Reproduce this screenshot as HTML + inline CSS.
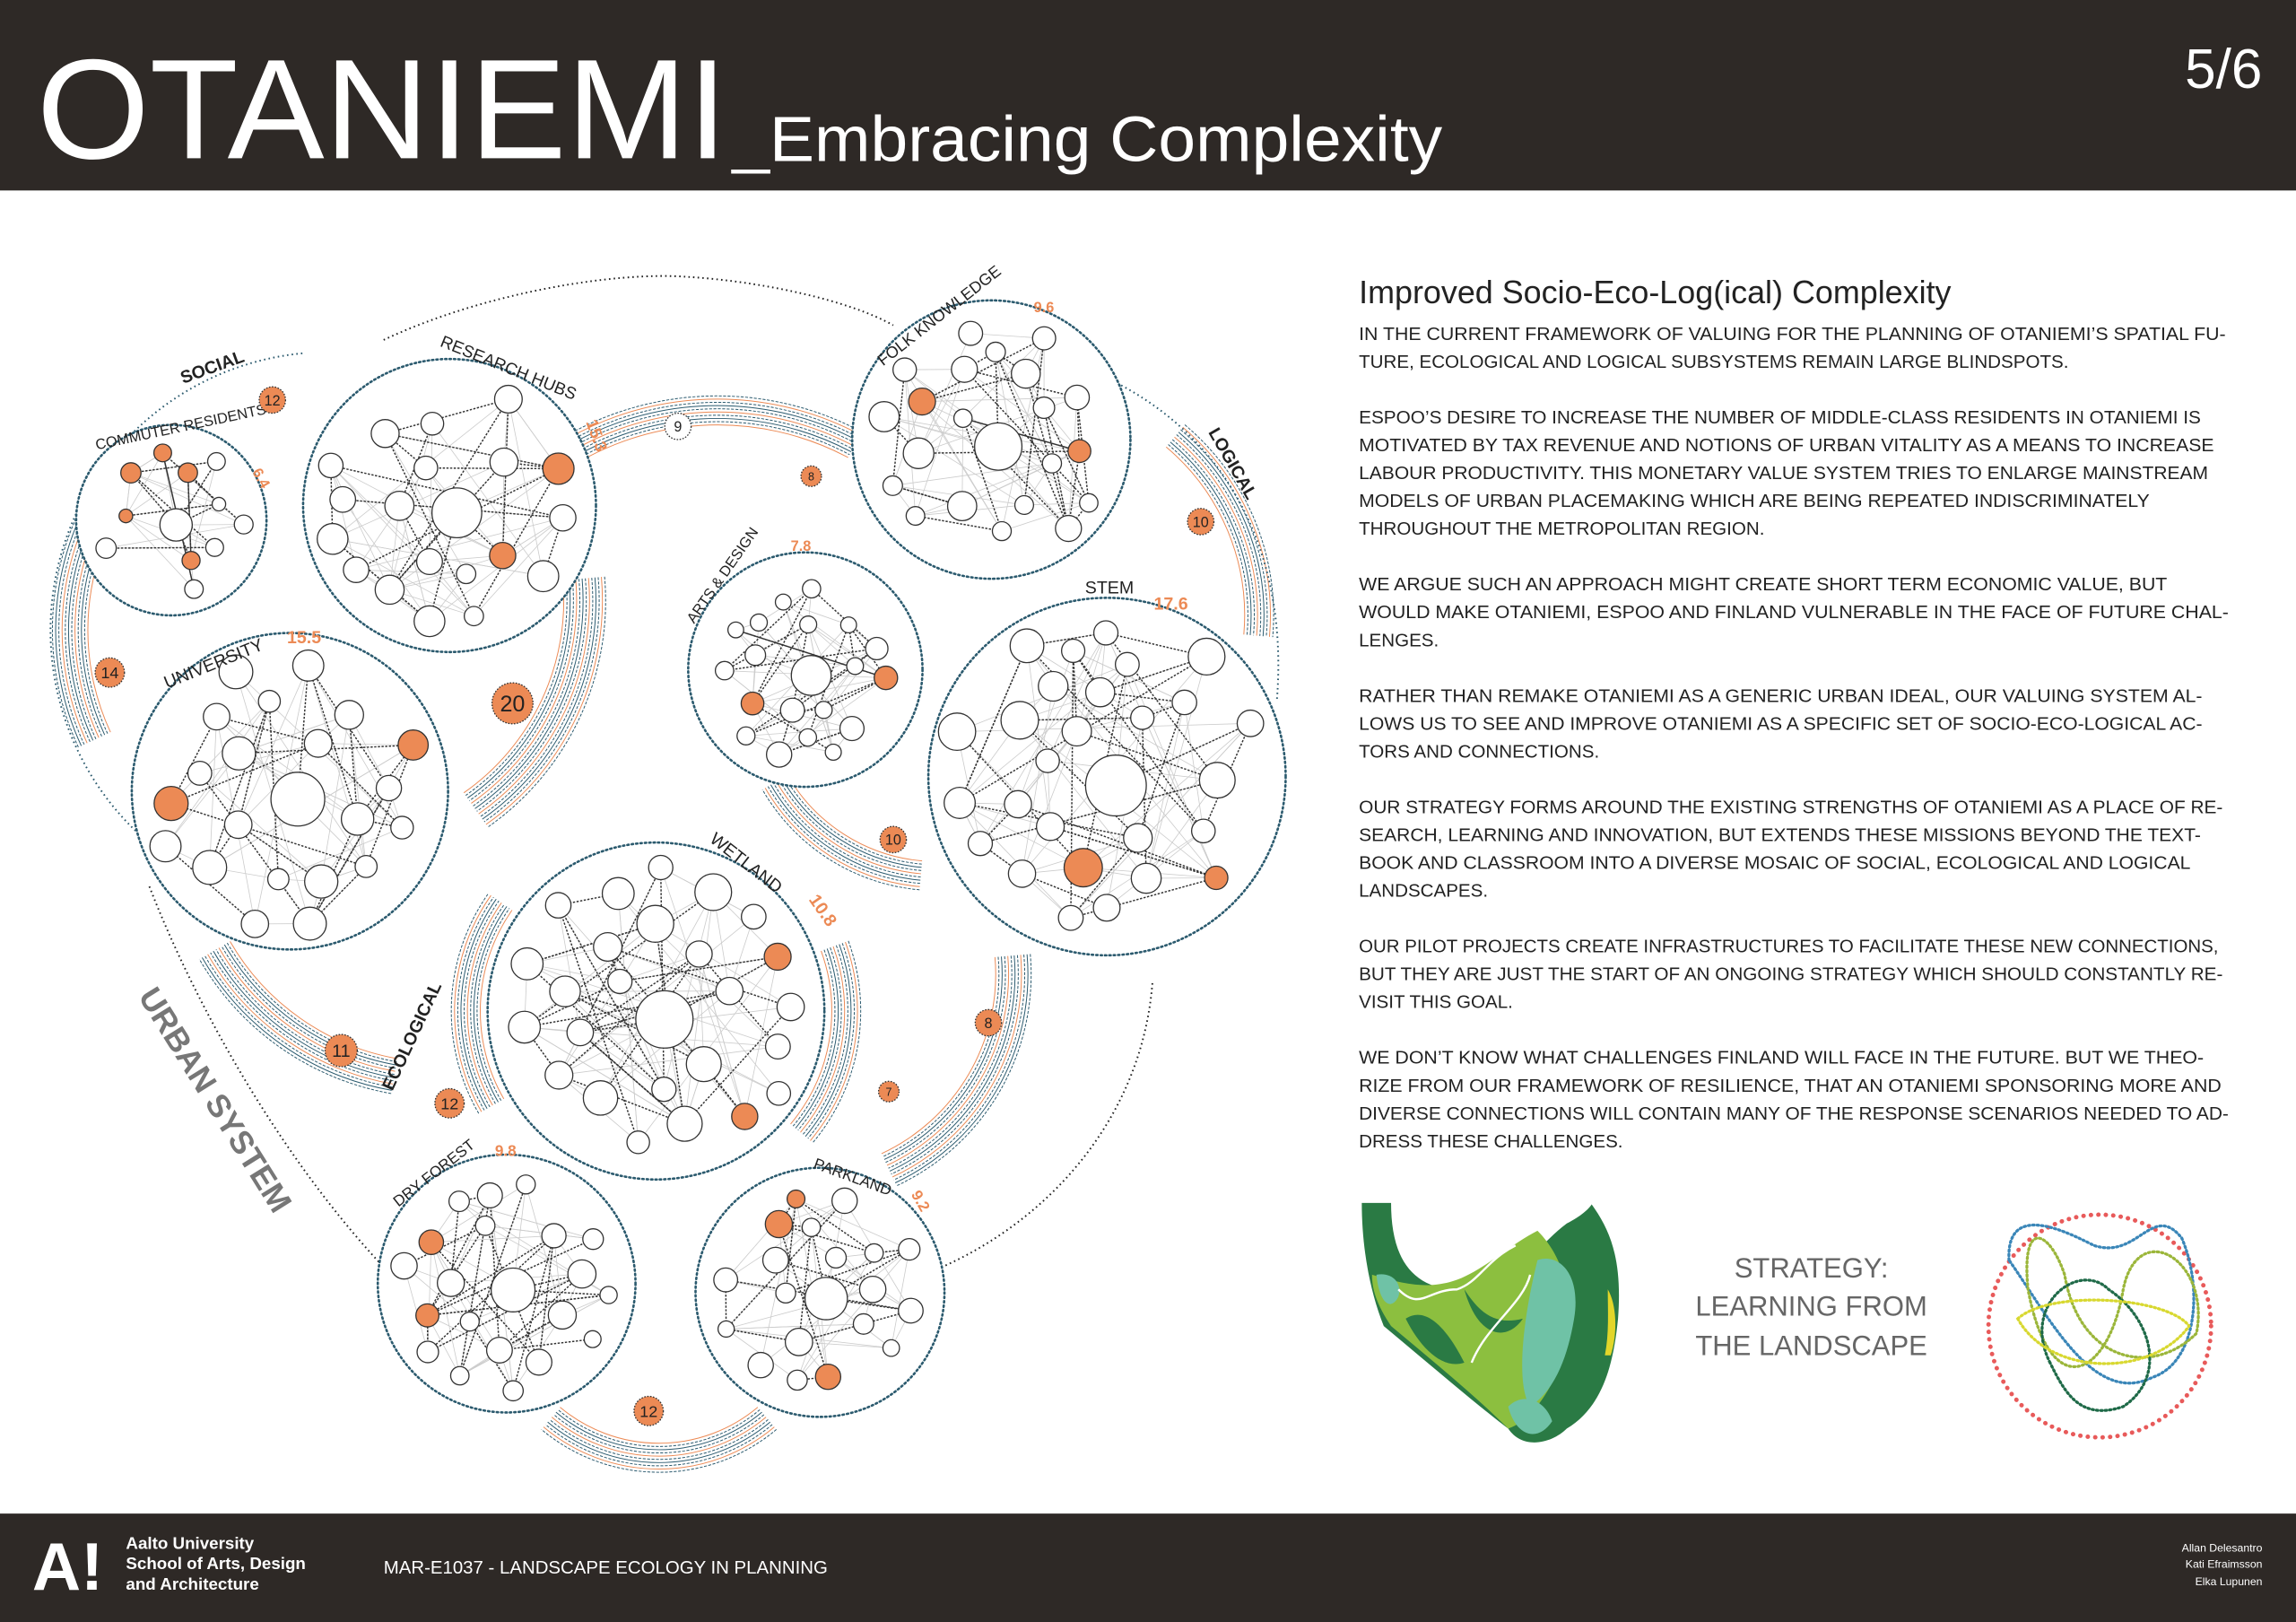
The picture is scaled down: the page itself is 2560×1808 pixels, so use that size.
<!DOCTYPE html>
<html><head><meta charset="utf-8"><style>
html,body{margin:0;padding:0;background:#fff;}
svg{display:block;}
.t{font-family:"Liberation Sans",sans-serif;}
</style></head><body>
<svg id="s" width="2560" height="1808" viewBox="0 0 1568 1107" preserveAspectRatio="none" xmlns="http://www.w3.org/2000/svg" class="t">
<rect width="1568" height="1107" fill="#fff"/>
<rect x="0" y="0" width="1568" height="130" fill="#2e2926"/>
<text x="25" y="108" font-size="97" fill="#fff" textLength="472" lengthAdjust="spacingAndGlyphs">OTANIEMI</text>
<text x="500" y="110" font-size="44" fill="#fff" textLength="485" lengthAdjust="spacingAndGlyphs">_Embracing Complexity</text>
<text x="1545" y="60" font-size="38" fill="#fff" text-anchor="end">5/6</text>
<rect x="0" y="1033" width="1568" height="74" fill="#2e2926"/>
<text x="22" y="1085" font-size="46" font-weight="bold" fill="#fff">A!</text>
<text x="86" y="1057" font-size="11.5" font-weight="bold" fill="#fff">Aalto University</text>
<text x="86" y="1071" font-size="11.5" font-weight="bold" fill="#fff">School of Arts, Design</text>
<text x="86" y="1085" font-size="11.5" font-weight="bold" fill="#fff">and Architecture</text>
<text x="262" y="1074" font-size="12.5" fill="#fff">MAR-E1037 - LANDSCAPE ECOLOGY IN PLANNING</text>
<text x="1545" y="1059" font-size="7.5" fill="#fff" text-anchor="end">Allan Delesantro</text>
<text x="1545" y="1070" font-size="7.5" fill="#fff" text-anchor="end">Kati Efraimsson</text>
<text x="1545" y="1082" font-size="7.5" fill="#fff" text-anchor="end">Elka Lupunen</text>

<g fill="#222" font-size="12.6">
<text x="928" y="207" font-size="22" fill="#222">Improved Socio-Eco-Log(ical) Complexity</text>
<text x="928" y="232" textLength="592" lengthAdjust="spacingAndGlyphs">IN THE CURRENT FRAMEWORK OF VALUING FOR THE PLANNING OF OTANIEMI’S SPATIAL FU-</text>
<text x="928" y="251">TURE, ECOLOGICAL AND LOGICAL SUBSYSTEMS REMAIN LARGE BLINDSPOTS.</text>
<text x="928" y="289" textLength="575" lengthAdjust="spacingAndGlyphs">ESPOO’S DESIRE TO INCREASE THE NUMBER OF MIDDLE-CLASS RESIDENTS IN OTANIEMI IS</text>
<text x="928" y="308" textLength="584" lengthAdjust="spacingAndGlyphs">MOTIVATED BY TAX REVENUE AND NOTIONS OF URBAN VITALITY AS A MEANS TO INCREASE</text>
<text x="928" y="327" textLength="580" lengthAdjust="spacingAndGlyphs">LABOUR PRODUCTIVITY. THIS MONETARY VALUE SYSTEM TRIES TO ENLARGE MAINSTREAM</text>
<text x="928" y="346" textLength="540" lengthAdjust="spacingAndGlyphs">MODELS OF URBAN PLACEMAKING WHICH ARE BEING REPEATED INDISCRIMINATELY</text>
<text x="928" y="365">THROUGHOUT THE METROPOLITAN REGION.</text>
<text x="928" y="403" textLength="552" lengthAdjust="spacingAndGlyphs">WE ARGUE SUCH AN APPROACH MIGHT CREATE SHORT TERM ECONOMIC VALUE, BUT</text>
<text x="928" y="422" textLength="594" lengthAdjust="spacingAndGlyphs">WOULD MAKE OTANIEMI, ESPOO AND FINLAND VULNERABLE IN THE FACE OF FUTURE CHAL-</text>
<text x="928" y="441">LENGES.</text>
<text x="928" y="479" textLength="576" lengthAdjust="spacingAndGlyphs">RATHER THAN REMAKE OTANIEMI AS A GENERIC URBAN IDEAL, OUR VALUING SYSTEM AL-</text>
<text x="928" y="498" textLength="576" lengthAdjust="spacingAndGlyphs">LOWS US TO SEE AND IMPROVE OTANIEMI AS A SPECIFIC SET OF SOCIO-ECO-LOGICAL AC-</text>
<text x="928" y="517">TORS AND CONNECTIONS.</text>
<text x="928" y="555" textLength="590" lengthAdjust="spacingAndGlyphs">OUR STRATEGY FORMS AROUND THE EXISTING STRENGTHS OF OTANIEMI AS A PLACE OF RE-</text>
<text x="928" y="574" textLength="575" lengthAdjust="spacingAndGlyphs">SEARCH, LEARNING AND INNOVATION, BUT EXTENDS THESE MISSIONS BEYOND THE TEXT-</text>
<text x="928" y="593" textLength="568" lengthAdjust="spacingAndGlyphs">BOOK AND CLASSROOM INTO A DIVERSE MOSAIC OF SOCIAL, ECOLOGICAL AND LOGICAL</text>
<text x="928" y="612">LANDSCAPES.</text>
<text x="928" y="650" textLength="587" lengthAdjust="spacingAndGlyphs">OUR PILOT PROJECTS CREATE INFRASTRUCTURES TO FACILITATE THESE NEW CONNECTIONS,</text>
<text x="928" y="669" textLength="590" lengthAdjust="spacingAndGlyphs">BUT THEY ARE JUST THE START OF AN ONGOING STRATEGY WHICH SHOULD CONSTANTLY RE-</text>
<text x="928" y="688">VISIT THIS GOAL.</text>
<text x="928" y="726" textLength="577" lengthAdjust="spacingAndGlyphs">WE DON’T KNOW WHAT CHALLENGES FINLAND WILL FACE IN THE FUTURE. BUT WE THEO-</text>
<text x="928" y="745" textLength="589" lengthAdjust="spacingAndGlyphs">RIZE FROM OUR FRAMEWORK OF RESILIENCE, THAT AN OTANIEMI SPONSORING MORE AND</text>
<text x="928" y="764" textLength="594" lengthAdjust="spacingAndGlyphs">DIVERSE CONNECTIONS WILL CONTAIN MANY OF THE RESPONSE SCENARIOS NEEDED TO AD-</text>
<text x="928" y="783">DRESS THESE CHALLENGES.</text>
</g>

<g fill="#666" font-size="19" text-anchor="middle">
<text x="1237" y="872">STRATEGY:</text>
<text x="1237" y="898">LEARNING FROM</text>
<text x="1237" y="925">THE LANDSCAPE</text>
</g>
<g>
<path d="M930,821 L950,821 C950,860 965,885 1010,880 C1040,870 1050,850 1070,835 C1080,830 1085,825 1087,822 C1100,840 1108,860 1105,900 C1102,930 1095,960 1070,975 C1060,985 1040,990 1030,975 C1010,960 975,930 945,905 C935,880 930,850 930,821Z" fill="#2a7a44"/>
<path d="M937,870 C955,875 970,880 990,875 C1010,870 1030,850 1050,840 C1070,860 1075,890 1070,920 C1060,950 1045,970 1030,975 C1010,955 980,930 950,905 C940,890 937,880 937,870Z" fill="#8cbf3f"/>
<path d="M1050,860 C1065,855 1080,870 1075,900 C1070,930 1060,950 1045,960 C1035,945 1040,900 1050,860Z" fill="#6fc2a6"/>
<path d="M940,870 C950,868 958,875 955,885 C950,895 942,890 940,870Z" fill="#6fc2a6"/>
<path d="M960,900 C975,890 990,910 1000,930 C985,935 970,920 960,900Z" fill="#2a7a44"/>
<path d="M1000,880 C1010,895 1020,905 1040,900 C1030,915 1010,915 1000,880Z" fill="#2a7a44"/>
<path d="M1030,960 C1040,950 1055,955 1060,970 C1050,985 1035,980 1030,960Z" fill="#6fc2a6"/>
<path d="M1098,880 C1104,890 1105,910 1100,925 L1096,925 C1099,910 1098,895 1098,880Z" fill="#e2d62a"/>
<path d="M955,880 C970,895 975,880 995,880 C1010,875 1015,860 1035,850 M1005,930 C1015,905 1040,890 1045,870" stroke="#fff" stroke-width="1.5" fill="none"/>
</g>
<g fill="none" stroke-width="2" stroke-linecap="round">
<circle cx="1434" cy="905" r="76" stroke="#e85a5a" stroke-dasharray="0.1 5" stroke-width="3"/>
<path d="M1372,860 C1370,820 1410,840 1430,850 C1460,860 1470,820 1490,845 C1505,880 1500,930 1470,940 C1430,960 1400,900 1372,860Z" stroke="#3a86b8" stroke-dasharray="1 2"/>
<path d="M1385,880 C1380,830 1400,840 1410,870 C1420,930 1470,940 1500,910 C1510,860 1460,830 1450,880 C1440,940 1400,960 1385,880Z" stroke="#9bb63a" stroke-dasharray="1 2"/>
<path d="M1400,930 C1380,890 1420,860 1440,880 C1470,900 1480,940 1450,960 C1420,970 1410,950 1400,930Z" stroke="#1f6a48" stroke-dasharray="1 2"/>
<path d="M1378,900 C1400,880 1480,885 1495,905 C1470,940 1400,940 1378,900Z" stroke="#d8d830" stroke-dasharray="1 2"/>
</g>

<g id="bund" fill="none" stroke="#2b5a6e" stroke-width="0.5"></g>
<g fill="none" stroke="#222" stroke-width="1.2" stroke-dasharray="1 2.2">
<path d="M102,605 C135,690 195,795 266,869"/>
<path d="M262,232 C330,200 420,185 470,189 C520,192 580,205 610,222"/>
<path d="M787,671 C780,760 720,830 645,864"/>
</g>
<g fill="none" stroke="#2b5a6e" stroke-width="1.2" stroke-dasharray="1 2.2">
<path d="M160,609 A190,190 0 0 1 208,241"/>
<path d="M760,260 C840,300 880,380 872,478"/>
</g>
<g id="circles"></g>
<g font-size="12" fill="#222">
<text x="125" y="262" font-weight="bold" transform="rotate(-20 125 262)">SOCIAL</text>
<text x="825" y="295" font-weight="bold" transform="rotate(60 825 295)">LOGICAL</text>
<text x="268" y="745" font-weight="bold" transform="rotate(-65 268 745)">ECOLOGICAL</text>
<text x="94" y="680" font-weight="bold" font-size="22" fill="#777" transform="rotate(58 94 680)">URBAN SYSTEM</text>
<text x="66" y="307" font-size="10" transform="rotate(-12 66 307)">COMMUTER RESIDENTS</text>
<text x="172" y="322" font-size="10" font-weight="bold" fill="#ec8a55" transform="rotate(60 172 322)">6.4</text>
<text x="300" y="236" font-size="11.5" transform="rotate(22 300 236)">RESEARCH HUBS</text>
<text x="400" y="288" font-size="11.5" font-weight="bold" fill="#ec8a55" transform="rotate(70 400 288)">15.3</text>
<text x="114" y="470" font-size="12" transform="rotate(-22 114 470)">UNIVERSITY</text>
<text x="196" y="439" font-size="12" font-weight="bold" fill="#ec8a55">15.5</text>
<text x="603" y="250" font-size="11" transform="rotate(-38 603 250)">FOLK KNOWLEDGE</text>
<text x="706" y="213" font-size="10" font-weight="bold" fill="#ec8a55">9.6</text>
<text x="474" y="426" font-size="10" transform="rotate(-55 474 426)">ARTS &amp; DESIGN</text>
<text x="540" y="376" font-size="10" font-weight="bold" fill="#ec8a55">7.8</text>
<text x="741" y="405" font-size="12">STEM</text>
<text x="788" y="416" font-size="12" font-weight="bold" fill="#ec8a55">17.6</text>
<text x="484" y="574" font-size="12" transform="rotate(38 484 574)">WETLAND</text>
<text x="552" y="614" font-size="12" font-weight="bold" fill="#ec8a55" transform="rotate(55 552 614)">10.8</text>
<text x="272" y="824" font-size="10.5" transform="rotate(-38 272 824)">DRY FOREST</text>
<text x="338" y="789" font-size="10.5" font-weight="bold" fill="#ec8a55">9.8</text>
<text x="555" y="797" font-size="10.5" transform="rotate(20 555 797)">PARKLAND</text>
<text x="622" y="815" font-size="10.5" font-weight="bold" fill="#ec8a55" transform="rotate(60 622 815)">9.2</text>
</g>
<g id="badges" font-size="11" text-anchor="middle"></g>
</svg>
<script>
(function(){
var NS="http://www.w3.org/2000/svg",s=987654;
function r(){s=(s*16807)%2147483647;return s/2147483647;}
function el(t,a,p){var e=document.createElementNS(NS,t);for(var k in a)e.setAttribute(k,a[k]);p.appendChild(e);return e;}
var g=document.getElementById('circles'),b=document.getElementById('bund'),bd=document.getElementById('badges');
function arcs(cx,cy,r0,n,a0,a1){for(var i=0;i<n;i++){var R=r0+i*2.2,x0=cx+R*Math.cos(a0),y0=cy+R*Math.sin(a0),x1=cx+R*Math.cos(a1),y1=cy+R*Math.sin(a1);
el('path',{d:'M'+x0+','+y0+' A'+R+','+R+' 0 0 1 '+x1+','+y1,stroke:(i%4==0?'#ec8a55':'#2b5a6e'),'stroke-width':0.6,'stroke-dasharray':(i%2?'2 1':'none')},b);}}
var D=Math.PI/180;
arcs(225,430,165,12,155*D,215*D);
arcs(490,480,190,10,-125*D,-62*D);
arcs(225,410,160,14,-5*D,55*D);
arcs(300,560,165,12,100*D,150*D);
arcs(640,470,118,10,95*D,150*D);
arcs(700,420,150,10,-50*D,5*D);
arcs(545,665,135,12,-5*D,65*D);
arcs(448,690,120,10,-20*D,40*D);
arcs(448,690,120,10,150*D,215*D);
arcs(450,880,105,10,50*D,130*D);
var C=[[117,355,65,12,5],[307,345,100,20,2],[198,540,108,22,2],[677,300,95,22,2],[550,457,80,20,2],[756,530,122,28,2],[448,690,115,26,2],[346,876,88,21,2],[560,882,85,20,3]];
C.forEach(function(c){var cx=c[0],cy=c[1],R=c[2];
el('circle',{cx:cx,cy:cy,r:R,fill:'#fff',stroke:'#2b5a6e','stroke-width':1.6,'stroke-dasharray':'1 2','stroke-linecap':'round'},g);
var pts=[[cx+R*0.05,cy+R*0.05,R*0.17]],n=c[3],tries=0;
while(pts.length<n&&tries<3000){tries++;var a=r()*6.283,d=Math.sqrt(r())*(R-14);var rr=R*(0.065+r()*0.045);var x=cx+d*Math.cos(a),y=cy+d*Math.sin(a);
var ok=true;for(var j=0;j<pts.length;j++){var dx=pts[j][0]-x,dy=pts[j][1]-y;if(Math.sqrt(dx*dx+dy*dy)<pts[j][2]+rr+R*0.06){ok=false;break;}}
if(ok)pts.push([x,y,rr]);}
n=pts.length;
for(var i=0;i<n*2.5;i++){var p=pts[Math.floor(r()*n)],q=pts[Math.floor(r()*n)];el('line',{x1:p[0],y1:p[1],x2:q[0],y2:q[1],stroke:'#ccc','stroke-width':0.5},g);}
for(var i=0;i<n*1.2;i++){var p=pts[Math.floor(r()*n)],q=pts[Math.floor(r()*n)];el('line',{x1:p[0],y1:p[1],x2:q[0],y2:q[1],stroke:'#333','stroke-width':0.9,'stroke-dasharray':'1.5 1'},g);}
pts.forEach(function(p,i){el('circle',{cx:p[0],cy:p[1],r:p[2],fill:(i>0&&i<=c[4]?'#ec8a55':'#fff'),stroke:'#333','stroke-width':0.8},g);});
});
var B=[[186,273,9,'12',1],[463,291,9,'9',0],[554,325,7,'8',1],[820,356,9,'10',1],[75,459,10,'14',1],[350,480,14,'20',1],[610,573,9,'10',1],[675,698,9,'8',1],[233,717,11,'11',1],[607,745,7,'7',1],[307,753,10,'12',1],[443,963,10,'12',1]];
B.forEach(function(x){el('circle',{cx:x[0],cy:x[1],r:x[2],fill:x[4]?'#ec8a55':'#fff',stroke:'#333','stroke-width':0.8,'stroke-dasharray':'1 1'},bd);
var t=el('text',{x:x[0],y:x[1]+x[2]*0.4,'font-size':x[2]*1.1,fill:'#222'},bd);t.textContent=x[3];});
})();
</script>
</body></html>
